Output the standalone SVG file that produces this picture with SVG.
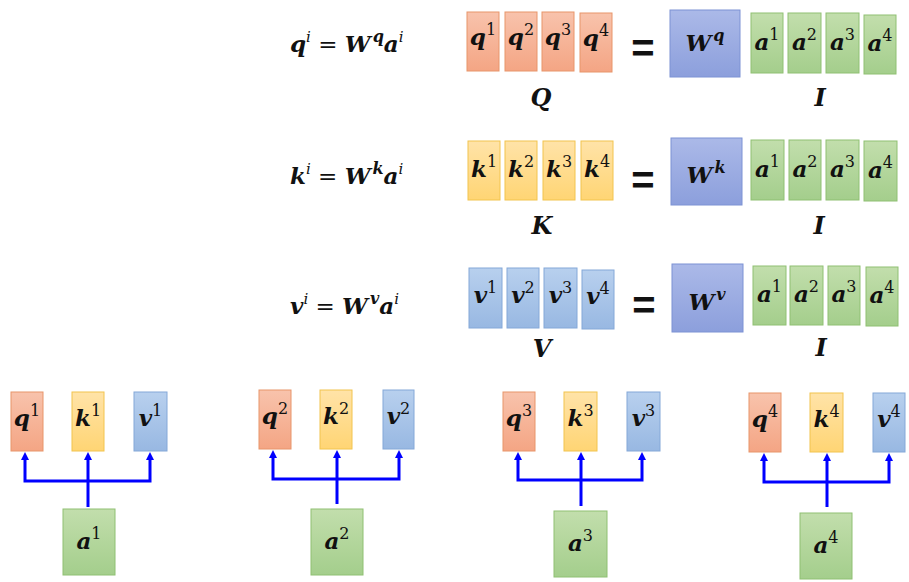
<svg xmlns="http://www.w3.org/2000/svg" width="909" height="582" viewBox="0 0 909 582">
<defs>
<linearGradient id="gO" x1="0" y1="0" x2="0" y2="1"><stop offset="0" stop-color="#F8C3AC"/><stop offset="1" stop-color="#F4A584"/></linearGradient>
<linearGradient id="gY" x1="0" y1="0" x2="0" y2="1"><stop offset="0" stop-color="#FFE3A8"/><stop offset="1" stop-color="#FFD574"/></linearGradient>
<linearGradient id="gB" x1="0" y1="0" x2="0" y2="1"><stop offset="0" stop-color="#B8D0EE"/><stop offset="1" stop-color="#98B8E2"/></linearGradient>
<linearGradient id="gW" x1="0" y1="0" x2="0" y2="1"><stop offset="0" stop-color="#ABB9E8"/><stop offset="1" stop-color="#8C9FDC"/></linearGradient>
<linearGradient id="gG" x1="0" y1="0" x2="0" y2="1"><stop offset="0" stop-color="#C2DEAC"/><stop offset="1" stop-color="#A4CE8C"/></linearGradient>
<marker id="ah" markerUnits="userSpaceOnUse" markerWidth="10" markerHeight="10" refX="2" refY="4" orient="auto"><path d="M0,0 L8,4 L0,8 z" fill="#0000FF"/></marker>
<style>
.o{fill:url(#gO);stroke:#E8956A;stroke-width:1}
.y{fill:url(#gY);stroke:#F2C44E;stroke-width:1}
.b{fill:url(#gB);stroke:#84A8D8;stroke-width:1}
.w{fill:url(#gW);stroke:#7D92D4;stroke-width:1}
.g{fill:url(#gG);stroke:#8FC072;stroke-width:1}
text{font-family:"DejaVu Serif","Liberation Serif",serif;fill:#111}
.m{font-size:23px;font-weight:bold;font-style:italic}
.mc{font-size:23px;font-weight:bold;font-style:italic;text-anchor:middle}
.s{font-size:16px;font-weight:normal;font-style:normal}
.si{font-size:15px;font-weight:normal;font-style:italic}
.sb{font-size:16px;font-weight:bold;font-style:italic}
.eq{font-size:23px;font-weight:normal;font-style:normal}
.big{font-family:"Liberation Sans",Arial,sans-serif;font-size:40px;font-weight:bold;text-anchor:middle}
.lab{font-size:24px;font-weight:bold;font-style:italic;text-anchor:middle}
.cn{fill:none;stroke:#0000FF;stroke-width:3;stroke-linejoin:miter}
</style>
</defs>

<!-- formulas -->
<g id="formula-q"><text class="m" x="290" y="52">q<tspan class="si" dy="-10">i</tspan><tspan class="eq" dy="10"> = </tspan>W<tspan class="sb" dx="2" dy="-10">q</tspan><tspan dy="10">a</tspan><tspan class="si" dy="-10">i</tspan></text></g>
<g id="formula-k"><text class="m" x="290" y="184">k<tspan class="si" dy="-10">i</tspan><tspan class="eq" dy="10"> = </tspan>W<tspan class="sb" dx="2" dy="-10">k</tspan><tspan dy="10">a</tspan><tspan class="si" dy="-10">i</tspan></text></g>
<g id="formula-v"><text class="m" x="290" y="314">v<tspan class="si" dy="-10">i</tspan><tspan class="eq" dy="10"> = </tspan>W<tspan class="sb" dx="2" dy="-10">v</tspan><tspan dy="10">a</tspan><tspan class="si" dy="-10">i</tspan></text></g>

<!-- Q row -->
<g id="Q">
<rect class="o" x="467" y="12" width="32" height="59"/><text class="mc" x="483" y="45">q<tspan class="s" dy="-10">1</tspan></text>
<rect class="o" x="505" y="12" width="32" height="59"/><text class="mc" x="521" y="45">q<tspan class="s" dy="-10">2</tspan></text>
<rect class="o" x="542" y="12" width="32" height="59"/><text class="mc" x="558" y="45">q<tspan class="s" dy="-10">3</tspan></text>
<rect class="o" x="580" y="13" width="32" height="59"/><text class="mc" x="596" y="46">q<tspan class="s" dy="-10">4</tspan></text>
<text class="lab" x="541" y="106">Q</text>
</g>
<g id="eq1"><text class="big" x="643" y="62">=</text></g>
<g id="Wq"><rect class="w" x="670" y="10" width="70" height="67"/><text class="mc" x="705" y="51">W<tspan class="sb" dx="2" dy="-10">q</tspan></text></g>
<g id="I1">
<rect class="g" x="751" y="13" width="32" height="60"/><text class="mc" x="767" y="50">a<tspan class="s" dy="-10">1</tspan></text>
<rect class="g" x="788" y="13" width="33" height="60"/><text class="mc" x="804.5" y="50">a<tspan class="s" dy="-10">2</tspan></text>
<rect class="g" x="826" y="13" width="33" height="60"/><text class="mc" x="842.5" y="50">a<tspan class="s" dy="-10">3</tspan></text>
<rect class="g" x="864" y="15" width="32" height="59"/><text class="mc" x="880" y="51">a<tspan class="s" dy="-10">4</tspan></text>
<text class="lab" x="820" y="106">I</text>
</g>

<!-- K row -->
<g id="K">
<rect class="y" x="468" y="141" width="32" height="59"/><text class="mc" x="484" y="177">k<tspan class="s" dy="-10">1</tspan></text>
<rect class="y" x="505" y="141" width="32" height="59"/><text class="mc" x="521" y="177">k<tspan class="s" dy="-10">2</tspan></text>
<rect class="y" x="543" y="141" width="32" height="59"/><text class="mc" x="559" y="177">k<tspan class="s" dy="-10">3</tspan></text>
<rect class="y" x="581" y="141" width="32" height="59"/><text class="mc" x="597" y="177">k<tspan class="s" dy="-10">4</tspan></text>
<text class="lab" x="542" y="234">K</text>
</g>
<g id="eq2"><text class="big" x="643" y="194">=</text></g>
<g id="Wk"><rect class="w" x="671" y="138" width="71" height="67"/><text class="mc" x="706" y="183">W<tspan class="sb" dx="2" dy="-10">k</tspan></text></g>
<g id="I2">
<rect class="g" x="751" y="140" width="33" height="60"/><text class="mc" x="767.5" y="177">a<tspan class="s" dy="-10">1</tspan></text>
<rect class="g" x="789" y="140" width="32" height="60"/><text class="mc" x="805" y="177">a<tspan class="s" dy="-10">2</tspan></text>
<rect class="g" x="826" y="140" width="33" height="60"/><text class="mc" x="842.5" y="177">a<tspan class="s" dy="-10">3</tspan></text>
<rect class="g" x="864" y="141" width="33" height="60"/><text class="mc" x="880.5" y="178">a<tspan class="s" dy="-10">4</tspan></text>
<text class="lab" x="819" y="234">I</text>
</g>

<!-- V row -->
<g id="V">
<rect class="b" x="469" y="268" width="33" height="60"/><text class="mc" x="485.5" y="303">v<tspan class="s" dy="-10">1</tspan></text>
<rect class="b" x="507" y="268" width="32" height="60"/><text class="mc" x="523" y="303">v<tspan class="s" dy="-10">2</tspan></text>
<rect class="b" x="544" y="268" width="33" height="60"/><text class="mc" x="560.5" y="303">v<tspan class="s" dy="-10">3</tspan></text>
<rect class="b" x="582" y="270" width="32" height="59"/><text class="mc" x="598" y="304">v<tspan class="s" dy="-10">4</tspan></text>
<text class="lab" x="542" y="357">V</text>
</g>
<g id="eq3"><text class="big" x="644" y="319">=</text></g>
<g id="Wv"><rect class="w" x="672" y="264" width="71" height="68"/><text class="mc" x="707" y="310">W<tspan class="sb" dx="2" dy="-10">v</tspan></text></g>
<g id="I3">
<rect class="g" x="753" y="266" width="33" height="59"/><text class="mc" x="769.5" y="302">a<tspan class="s" dy="-10">1</tspan></text>
<rect class="g" x="790" y="266" width="33" height="59"/><text class="mc" x="806.5" y="302">a<tspan class="s" dy="-10">2</tspan></text>
<rect class="g" x="828" y="266" width="32" height="59"/><text class="mc" x="844" y="302">a<tspan class="s" dy="-10">3</tspan></text>
<rect class="g" x="866" y="267" width="32" height="59"/><text class="mc" x="882" y="303">a<tspan class="s" dy="-10">4</tspan></text>
<text class="lab" x="821" y="356">I</text>
</g>

<!-- bottom groups -->
<g id="q1"><rect class="o" x="11" y="392" width="32" height="59"/><text class="mc" x="27" y="426">q<tspan class="s" dy="-10">1</tspan></text></g>
<g id="k1"><rect class="y" x="72" y="392" width="32" height="59"/><text class="mc" x="88" y="426">k<tspan class="s" dy="-10">1</tspan></text></g>
<g id="v1"><rect class="b" x="134" y="392" width="33" height="59"/><text class="mc" x="150.5" y="426">v<tspan class="s" dy="-10">1</tspan></text></g>
<g id="a1"><rect class="g" x="63" y="509" width="52" height="66"/><text class="mc" x="89" y="549">a<tspan class="s" dy="-10">1</tspan></text></g>

<g id="q2"><rect class="o" x="259" y="390" width="32" height="59"/><text class="mc" x="275" y="424">q<tspan class="s" dy="-10">2</tspan></text></g>
<g id="k2"><rect class="y" x="320" y="390" width="32" height="59"/><text class="mc" x="336" y="424">k<tspan class="s" dy="-10">2</tspan></text></g>
<g id="v2"><rect class="b" x="383" y="390" width="31" height="59"/><text class="mc" x="398.5" y="424">v<tspan class="s" dy="-10">2</tspan></text></g>
<g id="a2"><rect class="g" x="311" y="509" width="52" height="66"/><text class="mc" x="337" y="549">a<tspan class="s" dy="-10">2</tspan></text></g>

<g id="q3"><rect class="o" x="503" y="392" width="32" height="59"/><text class="mc" x="519" y="426">q<tspan class="s" dy="-10">3</tspan></text></g>
<g id="k3"><rect class="y" x="564" y="392" width="33" height="59"/><text class="mc" x="580.5" y="426">k<tspan class="s" dy="-10">3</tspan></text></g>
<g id="v3"><rect class="b" x="627" y="392" width="33" height="59"/><text class="mc" x="643.5" y="426">v<tspan class="s" dy="-10">3</tspan></text></g>
<g id="a3"><rect class="g" x="554" y="511" width="53" height="66"/><text class="mc" x="580.5" y="551">a<tspan class="s" dy="-10">3</tspan></text></g>

<g id="q4"><rect class="o" x="749" y="393" width="32" height="59"/><text class="mc" x="765" y="427">q<tspan class="s" dy="-10">4</tspan></text></g>
<g id="k4"><rect class="y" x="810" y="393" width="33" height="59"/><text class="mc" x="826.5" y="427">k<tspan class="s" dy="-10">4</tspan></text></g>
<g id="v4"><rect class="b" x="873" y="393" width="32" height="59"/><text class="mc" x="889" y="427">v<tspan class="s" dy="-10">4</tspan></text></g>
<g id="a4"><rect class="g" x="800" y="513" width="52" height="66"/><text class="mc" x="826" y="553">a<tspan class="s" dy="-10">4</tspan></text></g>

<g id="connectors">
<path class="cn" d="M88,507 V481"/>
<path class="cn" d="M88,481 H25 V458" marker-end="url(#ah)"/>
<path class="cn" d="M88,481 V458" marker-end="url(#ah)"/>
<path class="cn" d="M88,481 H150 V458" marker-end="url(#ah)"/>

<path class="cn" d="M337,504 V479"/>
<path class="cn" d="M337,479 H273 V456" marker-end="url(#ah)"/>
<path class="cn" d="M337,479 V456" marker-end="url(#ah)"/>
<path class="cn" d="M337,479 H399 V456" marker-end="url(#ah)"/>

<path class="cn" d="M581,506 V480"/>
<path class="cn" d="M581,480 H518 V458" marker-end="url(#ah)"/>
<path class="cn" d="M581,480 V458" marker-end="url(#ah)"/>
<path class="cn" d="M581,480 H642 V458" marker-end="url(#ah)"/>

<path class="cn" d="M827,507 V482"/>
<path class="cn" d="M827,482 H764 V459" marker-end="url(#ah)"/>
<path class="cn" d="M827,482 V459" marker-end="url(#ah)"/>
<path class="cn" d="M827,482 H889 V459" marker-end="url(#ah)"/>
</g>
</svg>
